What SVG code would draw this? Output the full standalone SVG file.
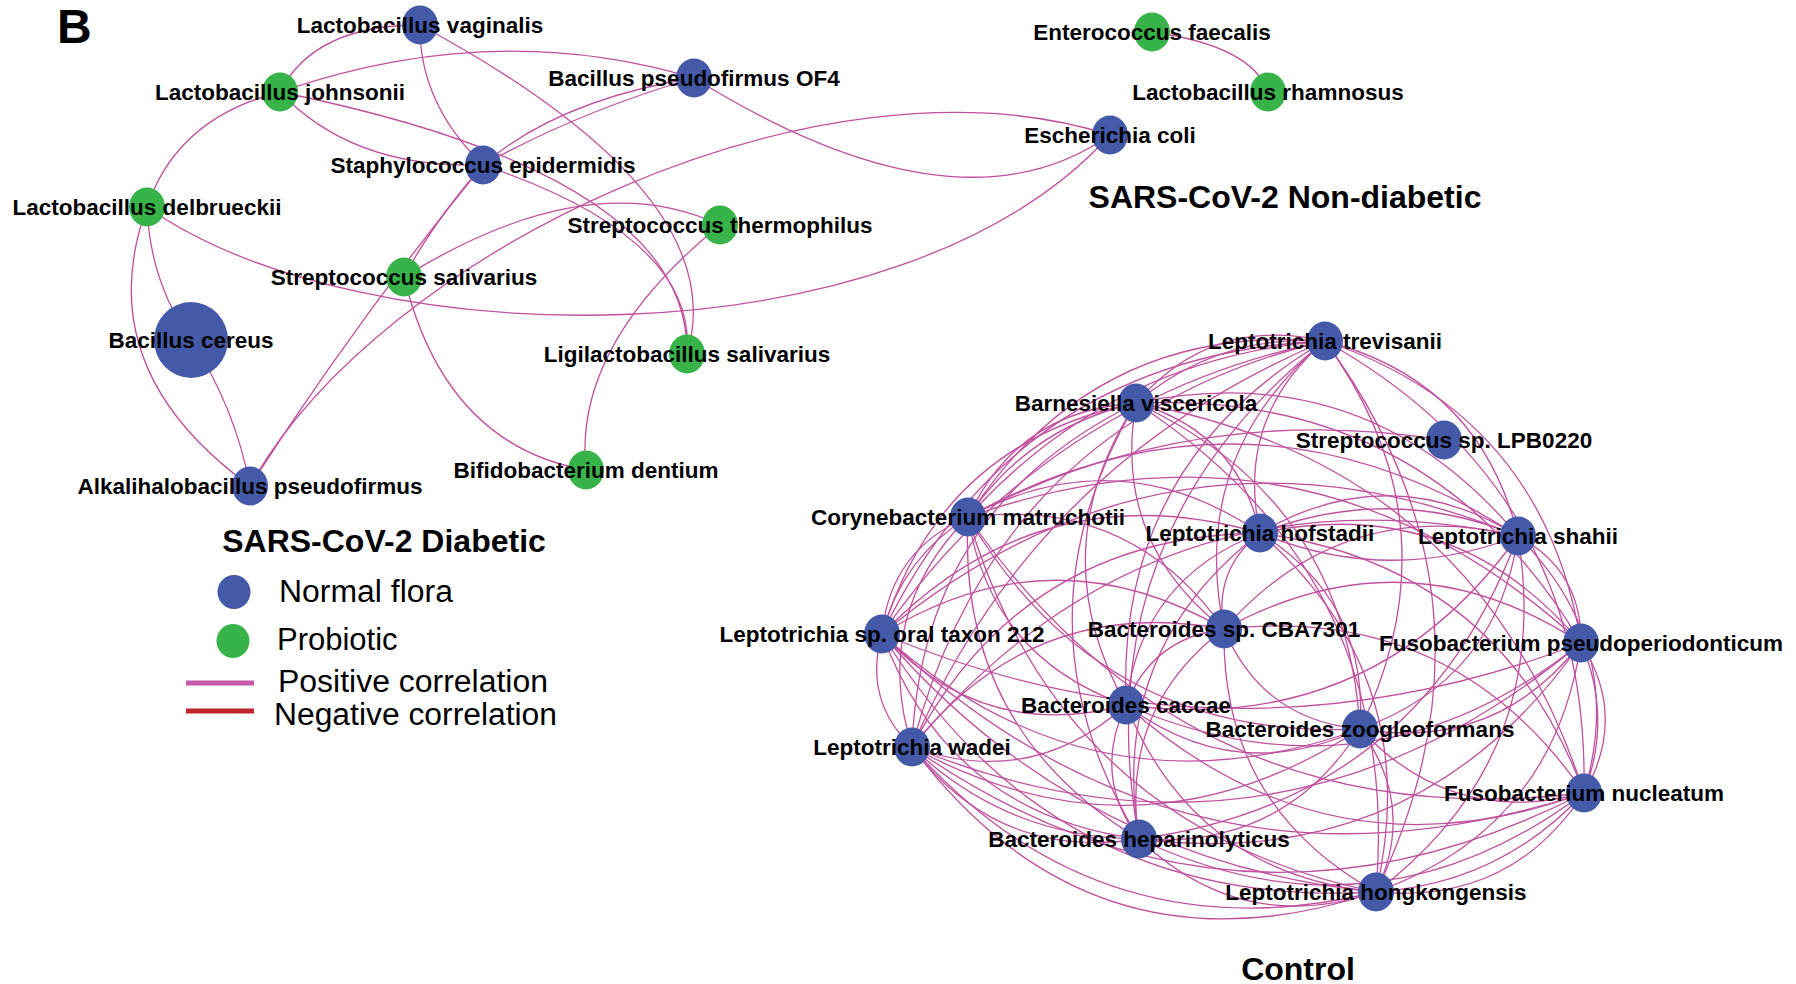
<svg xmlns="http://www.w3.org/2000/svg" width="1796" height="984" viewBox="0 0 1796 984">
<style>
.e{fill:none;stroke:#c0509f;stroke-width:1.3}
.nf{fill:#4459a8}
.pb{fill:#37b34a}
.lb{font-family:"Liberation Sans",Arial,sans-serif;font-weight:bold;font-size:22.5px;fill:#000;text-anchor:middle}
.tt{font-family:"Liberation Sans",Arial,sans-serif;font-weight:bold;font-size:32px;fill:#000;text-anchor:middle}
.lg{font-family:"Liberation Sans",Arial,sans-serif;font-size:31px;fill:#000}
</style>
<rect width="1796" height="984" fill="#fff"/>
<text x="57" y="43" font-family="Liberation Sans, Arial, sans-serif" font-weight="bold" font-size="48">B</text>
<g id="connectors">
<path class="e" d="M420,25 Q314,25 280,92"/>
<path class="e" d="M420,25 Q419,103 483,165"/>
<path class="e" d="M420,25 Q735,195 687,354"/>
<path class="e" d="M280,92 Q493,18 694,78"/>
<path class="e" d="M280,92 Q353,169 483,165"/>
<path class="e" d="M280,92 Q690,175 687,354"/>
<path class="e" d="M280,92 Q177,118 147,207"/>
<path class="e" d="M483,165 Q558,100 694,78"/>
<path class="e" d="M483,165 Q578,112 694,78"/>
<path class="e" d="M483,165 Q432,224 404,277"/>
<path class="e" d="M483,165 Q355,322 250,486"/>
<path class="e" d="M483,165 Q697,237 687,354"/>
<path class="e" d="M694,78 Q958,242 1110,135"/>
<path class="e" d="M147,207 C360,357 900,367 1110,135"/>
<path class="e" d="M147,207 Q150,282 191,340"/>
<path class="e" d="M147,207 Q88,368 250,486"/>
<path class="e" d="M191,340 Q235,407 250,486"/>
<path class="e" d="M404,277 Q588,163 720,225"/>
<path class="e" d="M404,277 Q445,445 586,470"/>
<path class="e" d="M720,225 Q573,345 586,470"/>
<path class="e" d="M250,486 C380,252 820,42 1110,135"/>
<path class="e" d="M1152,32 Q1252,46 1268,92"/>
<path class="e" d="M1325,341 Q1212,315 1136,403"/>
<path class="e" d="M1325,341 Q1218,334 1136,403"/>
<path class="e" d="M1325,341 Q1094,322 968,517"/>
<path class="e" d="M1325,341 Q1111,358 968,517"/>
<path class="e" d="M1325,341 Q1235,418 1260,533"/>
<path class="e" d="M1325,341 Q1480,381 1518,536"/>
<path class="e" d="M1325,341 Q1016,355 882,634"/>
<path class="e" d="M1325,341 Q1045,399 882,634"/>
<path class="e" d="M1325,341 Q1188,455 1224,629"/>
<path class="e" d="M1325,341 Q1544,415 1581,643"/>
<path class="e" d="M1325,341 Q1116,463 1126,705"/>
<path class="e" d="M1325,341 Q1459,525 1360,729"/>
<path class="e" d="M1325,341 Q997,420 912,747"/>
<path class="e" d="M1325,341 Q1037,461 912,747"/>
<path class="e" d="M1325,341 Q1590,489 1584,793"/>
<path class="e" d="M1325,341 Q1083,534 1139,839"/>
<path class="e" d="M1325,341 Q1516,601 1376,892"/>
<path class="e" d="M1136,403 Q1018,410 968,517"/>
<path class="e" d="M1136,403 Q1029,427 968,517"/>
<path class="e" d="M1136,403 Q1237,431 1260,533"/>
<path class="e" d="M1136,403 Q1367,355 1518,536"/>
<path class="e" d="M1136,403 Q940,442 882,634"/>
<path class="e" d="M1136,403 Q1112,542 1224,629"/>
<path class="e" d="M1136,403 Q1431,390 1581,643"/>
<path class="e" d="M1136,403 Q1040,551 1126,705"/>
<path class="e" d="M1136,403 Q1346,499 1360,729"/>
<path class="e" d="M1136,403 Q921,508 912,747"/>
<path class="e" d="M1136,403 Q1477,464 1584,793"/>
<path class="e" d="M1136,403 Q1007,622 1139,839"/>
<path class="e" d="M1136,403 Q1403,576 1376,892"/>
<path class="e" d="M968,517 Q1119,437 1260,533"/>
<path class="e" d="M968,517 Q1249,362 1518,536"/>
<path class="e" d="M968,517 Q890,550 882,634"/>
<path class="e" d="M968,517 Q902,558 882,634"/>
<path class="e" d="M968,517 Q1130,496 1224,629"/>
<path class="e" d="M968,517 Q1312,396 1581,643"/>
<path class="e" d="M968,517 Q991,658 1126,705"/>
<path class="e" d="M968,517 Q1100,741 1360,729"/>
<path class="e" d="M968,517 Q871,615 912,747"/>
<path class="e" d="M968,517 Q1193,840 1584,793"/>
<path class="e" d="M968,517 Q957,729 1139,839"/>
<path class="e" d="M968,517 Q1060,827 1376,892"/>
<path class="e" d="M968,517 Q1190,400 1444,440"/>
<path class="e" d="M1260,533 Q1390,457 1518,536"/>
<path class="e" d="M1260,533 Q1390,483 1518,536"/>
<path class="e" d="M1260,533 Q1388,586 1518,536"/>
<path class="e" d="M1260,533 Q1041,470 882,634"/>
<path class="e" d="M1260,533 Q1213,570 1224,629"/>
<path class="e" d="M1260,533 Q1454,492 1581,643"/>
<path class="e" d="M1260,533 Q1141,579 1126,705"/>
<path class="e" d="M1260,533 Q1369,601 1360,729"/>
<path class="e" d="M1260,533 Q1022,536 912,747"/>
<path class="e" d="M1260,533 Q1500,566 1584,793"/>
<path class="e" d="M1260,533 Q1108,650 1139,839"/>
<path class="e" d="M1260,533 Q1426,678 1376,892"/>
<path class="e" d="M1518,536 Q1171,394 882,634"/>
<path class="e" d="M1518,536 Q1343,494 1224,629"/>
<path class="e" d="M1518,536 Q1582,571 1581,643"/>
<path class="e" d="M1518,536 Q1373,738 1126,705"/>
<path class="e" d="M1518,536 Q1497,680 1360,729"/>
<path class="e" d="M1518,536 Q1152,460 912,747"/>
<path class="e" d="M1518,536 Q1628,645 1584,793"/>
<path class="e" d="M1518,536 Q1419,801 1139,839"/>
<path class="e" d="M1518,536 Q1554,757 1376,892"/>
<path class="e" d="M882,634 Q1052,529 1224,629"/>
<path class="e" d="M882,634 Q1230,778 1581,643"/>
<path class="e" d="M882,634 Q983,743 1126,705"/>
<path class="e" d="M882,634 Q1093,825 1360,729"/>
<path class="e" d="M882,634 Q863,700 912,747"/>
<path class="e" d="M882,634 Q1185,924 1584,793"/>
<path class="e" d="M882,634 Q949,814 1139,839"/>
<path class="e" d="M882,634 Q1052,911 1376,892"/>
<path class="e" d="M882,634 Q1078,862 1376,892"/>
<path class="e" d="M1224,629 Q1407,529 1581,643"/>
<path class="e" d="M1224,629 Q1152,638 1126,705"/>
<path class="e" d="M1224,629 Q1262,720 1360,729"/>
<path class="e" d="M1224,629 Q1033,594 912,747"/>
<path class="e" d="M1224,629 Q1453,603 1584,793"/>
<path class="e" d="M1224,629 Q1119,709 1139,839"/>
<path class="e" d="M1224,629 Q1221,806 1376,892"/>
<path class="e" d="M1581,643 Q1372,811 1126,705"/>
<path class="e" d="M1581,643 Q1496,752 1360,729"/>
<path class="e" d="M1581,643 Q1278,896 912,747"/>
<path class="e" d="M1581,643 Q1628,717 1584,793"/>
<path class="e" d="M1581,643 Q1613,717 1584,793"/>
<path class="e" d="M1581,643 Q1419,874 1139,839"/>
<path class="e" d="M1581,643 Q1553,829 1376,892"/>
<path class="e" d="M1126,705 Q1236,787 1360,729"/>
<path class="e" d="M1126,705 Q1032,790 912,747"/>
<path class="e" d="M1126,705 Q1329,886 1584,793"/>
<path class="e" d="M1126,705 Q1092,776 1139,839"/>
<path class="e" d="M1126,705 Q1195,874 1376,892"/>
<path class="e" d="M1360,729 Q1141,872 912,747"/>
<path class="e" d="M1360,729 Q1453,828 1584,793"/>
<path class="e" d="M1360,729 Q1283,850 1139,839"/>
<path class="e" d="M1360,729 Q1417,806 1376,892"/>
<path class="e" d="M912,747 Q1234,972 1584,793"/>
<path class="e" d="M912,747 Q998,861 1139,839"/>
<path class="e" d="M912,747 Q1007,838 1139,839"/>
<path class="e" d="M912,747 Q1100,959 1376,892"/>
<path class="e" d="M912,747 Q1092,987 1376,892"/>
<path class="e" d="M1584,793 Q1375,950 1139,839"/>
<path class="e" d="M1584,793 Q1510,905 1376,892"/>
<path class="e" d="M1584,793 Q1500,884 1376,892"/>
<path class="e" d="M1139,839 Q1242,937 1376,892"/>
</g>
<g id="n-vaginalis"><ellipse class="nf" cx="420" cy="25" rx="18" ry="19.5"/><text class="lb" x="420" y="33">Lactobacillus vaginalis</text></g>
<g id="n-johnsonii"><ellipse class="pb" cx="280" cy="92" rx="18" ry="19.5"/><text class="lb" x="280" y="100">Lactobacillus johnsonii</text></g>
<g id="n-of4"><ellipse class="nf" cx="694" cy="78" rx="18" ry="19.5"/><text class="lb" x="694" y="86">Bacillus pseudofirmus OF4</text></g>
<g id="n-staph"><ellipse class="nf" cx="483" cy="165" rx="18" ry="19.5"/><text class="lb" x="483" y="173">Staphylococcus epidermidis</text></g>
<g id="n-delbrueckii"><ellipse class="pb" cx="147" cy="207" rx="18" ry="19.5"/><text class="lb" x="147" y="215">Lactobacillus delbrueckii</text></g>
<g id="n-thermophilus"><ellipse class="pb" cx="720" cy="225" rx="18" ry="19.5"/><text class="lb" x="720" y="233">Streptococcus thermophilus</text></g>
<g id="n-ssalivarius"><ellipse class="pb" cx="404" cy="277" rx="18" ry="19.5"/><text class="lb" x="404" y="285">Streptococcus salivarius</text></g>
<g id="n-cereus"><ellipse class="nf" cx="191" cy="340" rx="37" ry="38"/><text class="lb" x="191" y="348">Bacillus cereus</text></g>
<g id="n-ligilacto"><ellipse class="pb" cx="687" cy="354" rx="18" ry="19.5"/><text class="lb" x="687" y="362">Ligilactobacillus salivarius</text></g>
<g id="n-bifido"><ellipse class="pb" cx="586" cy="470" rx="18" ry="19.5"/><text class="lb" x="586" y="478">Bifidobacterium dentium</text></g>
<g id="n-alkali"><ellipse class="nf" cx="250" cy="486" rx="18" ry="19.5"/><text class="lb" x="250" y="494">Alkalihalobacillus pseudofirmus</text></g>
<g id="n-enterococcus"><ellipse class="pb" cx="1152" cy="32" rx="18" ry="19.5"/><text class="lb" x="1152" y="40">Enterococcus faecalis</text></g>
<g id="n-rhamnosus"><ellipse class="pb" cx="1268" cy="92" rx="18" ry="19.5"/><text class="lb" x="1268" y="100">Lactobacillus rhamnosus</text></g>
<g id="n-ecoli"><ellipse class="nf" cx="1110" cy="135" rx="18" ry="19.5"/><text class="lb" x="1110" y="143">Escherichia coli</text></g>
<g id="n-trevisanii"><ellipse class="nf" cx="1325" cy="341" rx="18" ry="19.5"/><text class="lb" x="1325" y="349">Leptotrichia trevisanii</text></g>
<g id="n-barnesiella"><ellipse class="nf" cx="1136" cy="403" rx="18" ry="19.5"/><text class="lb" x="1136" y="411">Barnesiella viscericola</text></g>
<g id="n-lpb0220"><ellipse class="nf" cx="1444" cy="440" rx="18" ry="19.5"/><text class="lb" x="1444" y="448">Streptococcus sp. LPB0220</text></g>
<g id="n-coryne"><ellipse class="nf" cx="968" cy="517" rx="18" ry="19.5"/><text class="lb" x="968" y="525">Corynebacterium matruchotii</text></g>
<g id="n-hofstadii"><ellipse class="nf" cx="1260" cy="533" rx="18" ry="19.5"/><text class="lb" x="1260" y="541">Leptotrichia hofstadii</text></g>
<g id="n-shahii"><ellipse class="nf" cx="1518" cy="536" rx="18" ry="19.5"/><text class="lb" x="1518" y="544">Leptotrichia shahii</text></g>
<g id="n-oral212"><ellipse class="nf" cx="882" cy="634" rx="18" ry="19.5"/><text class="lb" x="882" y="642">Leptotrichia sp. oral taxon 212</text></g>
<g id="n-cba7301"><ellipse class="nf" cx="1224" cy="629" rx="18" ry="19.5"/><text class="lb" x="1224" y="637">Bacteroides sp. CBA7301</text></g>
<g id="n-fusopseudo"><ellipse class="nf" cx="1581" cy="643" rx="18" ry="19.5"/><text class="lb" x="1581" y="651">Fusobacterium pseudoperiodonticum</text></g>
<g id="n-caccae"><ellipse class="nf" cx="1126" cy="705" rx="18" ry="19.5"/><text class="lb" x="1126" y="713">Bacteroides caccae</text></g>
<g id="n-zoogleo"><ellipse class="nf" cx="1360" cy="729" rx="18" ry="19.5"/><text class="lb" x="1360" y="737">Bacteroides zoogleoformans</text></g>
<g id="n-wadei"><ellipse class="nf" cx="912" cy="747" rx="18" ry="19.5"/><text class="lb" x="912" y="755">Leptotrichia wadei</text></g>
<g id="n-nucleatum"><ellipse class="nf" cx="1584" cy="793" rx="18" ry="19.5"/><text class="lb" x="1584" y="801">Fusobacterium nucleatum</text></g>
<g id="n-heparino"><ellipse class="nf" cx="1139" cy="839" rx="18" ry="19.5"/><text class="lb" x="1139" y="847">Bacteroides heparinolyticus</text></g>
<g id="n-hongkong"><ellipse class="nf" cx="1376" cy="892" rx="18" ry="19.5"/><text class="lb" x="1376" y="900">Leptotrichia hongkongensis</text></g>
<g id="titles">
<text class="tt" x="384" y="552">SARS-CoV-2 Diabetic</text>
<text class="tt" x="1285" y="208">SARS-CoV-2 Non-diabetic</text>
<text class="tt" x="1298" y="980">Control</text>
</g>
<g id="legend">
<ellipse class="nf" cx="234" cy="592" rx="16.5" ry="17"/>
<text class="lg" x="279" y="602" textLength="174" lengthAdjust="spacingAndGlyphs">Normal flora</text>
<ellipse class="pb" cx="233" cy="641" rx="16.5" ry="17"/>
<text class="lg" x="277" y="650">Probiotic</text>
<line x1="186" y1="683" x2="254" y2="683" stroke="#c45aa6" stroke-width="5"/>
<text class="lg" x="278" y="692" textLength="270" lengthAdjust="spacingAndGlyphs">Positive correlation</text>
<line x1="186" y1="711" x2="254" y2="711" stroke="#c0272d" stroke-width="5"/>
<text class="lg" x="274" y="725" textLength="283" lengthAdjust="spacingAndGlyphs">Negative correlation</text>
</g>
</svg>
